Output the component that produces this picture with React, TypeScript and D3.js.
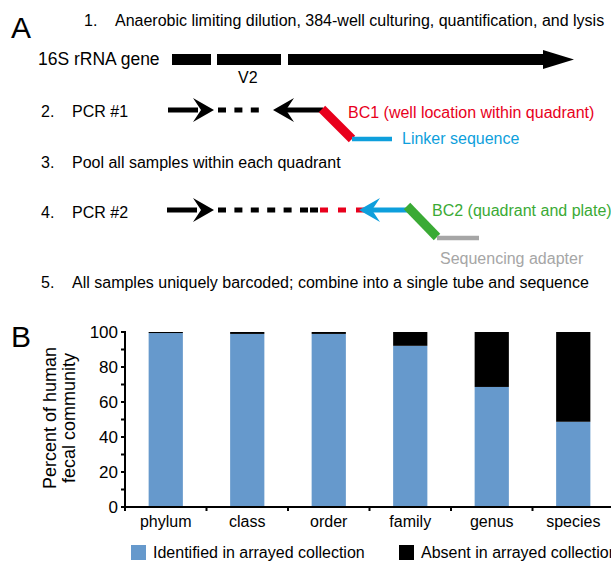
import React from 'react';
import * as d3 from 'd3';

const ranks = ['phylum', 'class', 'order', 'family', 'genus', 'species'];
const identified = [99.4, 98.9, 98.9, 92.1, 68.6, 48.7];
const absent = [0.6, 1.1, 1.1, 7.9, 31.4, 51.3];
const yTicks = [0, 20, 40, 60, 80, 100];
const legendLabels = ['Identified in arrayed collection', 'Absent in arrayed collection'];
const steps = [
  'Anaerobic limiting dilution, 384-well culturing, quantification, and lysis',
  'PCR #1',
  'Pool all samples within each quadrant',
  'PCR #2',
  'All samples uniquely barcoded; combine into a single tube and sequence',
];

const C = { blue: '#6699cc', black: '#000', red: '#e8001c', cyan: '#0e9fdc', green: '#3aaa35', gray: '#a6a6a6' };
const FONT = '"Liberation Sans", Arial, sans-serif';

// stealth-style arrowhead, tip at (x,y), dir +1 right / -1 left
function stealth(x: number, y: number, dir: number, len = 21, half = 12, notch = 13) {
  const b = x - dir * len, n = x - dir * notch;
  return `M${x},${y} L${b},${y - half} L${n},${y} L${b},${y + half} Z`;
}

function Dashes({ x0, y, n, color, dash = 8, gap = 8.4 }: any) {
  return (
    <g>
      {d3.range(n).map(i => (
        <rect key={i} x={x0 + i * (dash + gap)} y={y - 2.5} width={dash} height={5} fill={color} />
      ))}
    </g>
  );
}

function Schematic() {
  return (
    <g fontFamily={FONT} fontSize={16}>
      <text x={11} y={38} fontSize={30}>A</text>
      <text x={84} y={26}>1.</text>
      <text x={115} y={26}>{steps[0]}</text>

      {/* 16S gene */}
      <text x={38} y={65} fontSize={17.5}>16S rRNA gene</text>
      <rect x={172} y={54} width={39} height={11} fill={C.black} />
      <rect x={217} y={54} width={64} height={11} fill={C.black} />
      <rect x={288} y={54} width={256} height={11} fill={C.black} />
      <path d="M543,50 L574,59.5 L543,69 Z" fill={C.black} />
      <text x={238} y={83}>V2</text>

      {/* PCR #1 */}
      <text x={41} y={117}>2.</text>
      <text x={72} y={117}>{steps[1]}</text>
      <rect x={168} y={107.5} width={30} height={5} fill={C.black} />
      <path d={stealth(214, 110, 1)} fill={C.black} />
      <Dashes x0={218} y={110} n={3} color={C.black} />
      <path d={stealth(273, 110, -1)} fill={C.black} />
      <rect x={286} y={107.5} width={37} height={5} fill={C.black} />
      <line x1={322} y1={109} x2={352} y2={139} stroke={C.red} strokeWidth={9} />
      <line x1={352} y1={139} x2={392} y2={139} stroke={C.cyan} strokeWidth={4.5} />
      <text x={348} y={118} fill={C.red}>BC1 (well location within quadrant)</text>
      <text x={402} y={144} fill={C.cyan}>Linker sequence</text>

      <text x={41} y={168}>3.</text>
      <text x={72} y={168}>{steps[2]}</text>

      {/* PCR #2 */}
      <text x={41} y={218}>4.</text>
      <text x={72} y={218}>{steps[3]}</text>
      <rect x={167} y={207.5} width={30} height={5} fill={C.black} />
      <path d={stealth(214, 210, 1)} fill={C.black} />
      <Dashes x0={218} y={210} n={6} color={C.black} />
      <rect x={310} y={207.5} width={8} height={5} fill={C.black} />
      <Dashes x0={320} y={210} n={3} color={C.red} dash={8} gap={10} />
      <path d={stealth(359, 210, -1)} fill={C.cyan} />
      <rect x={372} y={207.5} width={36} height={5} fill={C.cyan} />
      <line x1={407} y1={206} x2={437} y2={237} stroke={C.green} strokeWidth={9} />
      <line x1={437} y1={238} x2={479} y2={238} stroke={C.gray} strokeWidth={4.5} />
      <text x={432} y={216} fill={C.green}>BC2 (quadrant and plate)</text>
      <text x={440} y={264} fill={C.gray}>Sequencing adapter</text>

      <text x={41} y={288}>5.</text>
      <text x={72} y={288}>{steps[4]}</text>
    </g>
  );
}

function BarChart() {
  const left = 125, top = 332, bottom = 507, right = 614;
  const x = d3.scaleBand().domain(ranks).range([left, right]).paddingInner(0.58).paddingOuter(0.29);
  const step = x.step();
  const y = d3.scaleLinear().domain([0, 100]).range([bottom, top]);
  const minor = d3.range(0, 101, 10);
  const bounds = d3.range(ranks.length + 1).map(i => left + i * step);
  return (
    <g fontFamily={FONT}>
      <text x={11} y={347} fontSize={30}>B</text>
      {ranks.map((r, i) => (
        <g key={r}>
          <rect x={x(r)} y={y(identified[i])} width={x.bandwidth()} height={bottom - y(identified[i])} fill={C.blue} />
          <rect x={x(r)} y={y(identified[i] + absent[i])} width={x.bandwidth()} height={y(identified[i]) - y(identified[i] + absent[i])} fill={C.black} />
          <text x={(x(r) as number) + x.bandwidth() / 2} y={527} fontSize={16} textAnchor="middle">{r}</text>
        </g>
      ))}
      <line x1={left} y1={top - 1} x2={left} y2={bottom + 1} stroke="#000" strokeWidth={2} />
      <line x1={left - 1} y1={bottom} x2={611} y2={bottom} stroke="#000" strokeWidth={2} />
      {minor.map(t => (
        <line key={t} x1={left - 4} x2={left} y1={y(t)} y2={y(t)} stroke="#000" strokeWidth={2} />
      ))}
      {bounds.map((b, i) => (
        <line key={i} x1={b} x2={b} y1={bottom} y2={bottom + 4} stroke="#000" strokeWidth={2} />
      ))}
      {yTicks.map(t => (
        <text key={t} x={118} y={y(t) + 6} fontSize={17} textAnchor="end">{t}</text>
      ))}
      <text transform="translate(56,418) rotate(-90)" fontSize={18} textAnchor="middle">Percent of human</text>
      <text transform="translate(75,418) rotate(-90)" fontSize={18} textAnchor="middle">fecal community</text>
      {legendLabels.map((l, i) => (
        <g key={l} transform={`translate(${131 + i * 268},545)`}>
          <rect width={15} height={15} fill={i === 0 ? C.blue : C.black} />
          <text x={22} y={13} fontSize={16}>{l}</text>
        </g>
      ))}
    </g>
  );
}

export default function App() {
  return (
    <svg width={611} height={562} style={{ position: 'absolute', left: 0, top: 0, background: '#fff' }}>
      <Schematic />
      <BarChart />
    </svg>
  );
}
